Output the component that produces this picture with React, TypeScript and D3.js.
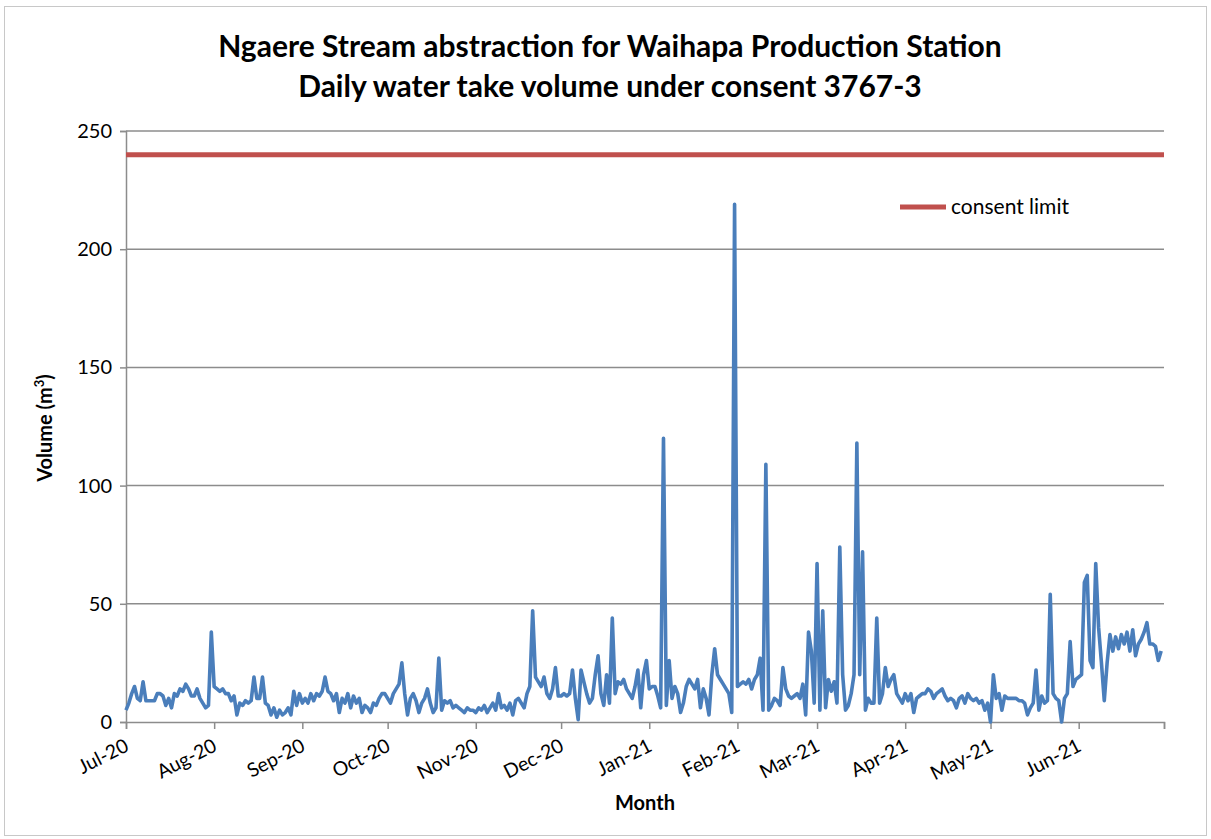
import React, { useRef, useEffect } from "react";
import * as d3 from "d3";

// daily take volume (m3), Jul 2020 - Jun 2021
const jul20 = [5, 8, 12, 15, 10, 9, 17, 9, 9, 9, 9, 12, 12, 11, 7, 10, 6, 12, 11, 14, 13, 16, 14, 11, 11, 14, 10, 8, 6, 7, 38];
const aug20 = [15, 14, 13, 14, 12, 12, 9, 11, 3, 8, 7, 9, 8, 9, 19, 10, 10, 19, 8, 7, 3, 6, 2, 5, 3, 4, 6, 3, 13, 7, 12];
const sep20 = [8, 10, 8, 12, 9, 12, 11, 13, 19, 13, 12, 9, 12, 4, 10, 8, 12, 6, 11, 8, 10, 4, 7, 6, 4, 8, 7, 10, 12, 12];
const oct20 = [10, 8, 12, 14, 16, 25, 12, 3, 10, 12, 9, 4, 8, 10, 14, 8, 4, 6, 27, 5, 9, 8, 9, 6, 7, 6, 5, 4, 6, 5, 5];
const nov20 = [4, 6, 5, 7, 4, 6, 8, 5, 12, 6, 7, 5, 8, 3, 9, 10, 8, 6, 12, 15, 47, 19, 17, 15, 19, 12, 10, 14, 23, 11];
const dec20 = [11, 12, 11, 12, 22, 10, 1, 22, 17, 12, 8, 10, 20, 28, 12, 7, 20, 8, 44, 12, 17, 16, 18, 14, 12, 10, 15, 22, 6, 20, 26];
const jan21 = [14, 15, 15, 11, 6, 120, 7, 26, 10, 15, 12, 4, 8, 15, 18, 16, 14, 18, 6, 14, 10, 3, 20, 31, 20, 18, 16, 14, 12, 4, 219];
const feb21 = [15, 16, 17, 16, 18, 14, 18, 20, 27, 5, 109, 5, 7, 10, 9, 7, 23, 14, 11, 10, 11, 12, 10, 16, 3, 38, 30, 8];
const mar21 = [67, 5, 47, 6, 18, 13, 17, 8, 74, 20, 5, 7, 12, 20, 118, 20, 72, 5, 10, 8, 8, 44, 8, 12, 23, 15, 18, 20, 12, 10, 8];
const apr21 = [12, 9, 12, 4, 10, 11, 12, 12, 14, 13, 10, 12, 13, 14, 11, 9, 10, 9, 6, 10, 11, 8, 12, 10, 9, 10, 8, 9, 5, 8];
const may21 = [0, 20, 10, 12, 5, 11, 10, 10, 10, 10, 9, 9, 8, 3, 6, 8, 22, 5, 11, 8, 9, 54, 12, 10, 9, 0, 10, 12, 34, 15, 18];
const jun21 = [19, 20, 59, 62, 26, 23, 67, 40, 25, 9, 25, 37, 30, 36, 31, 37, 33, 38, 30, 39, 28, 33, 35, 38, 42, 33, 33, 32, 26, 30];

const monthLabels = ["Jul-20", "Aug-20", "Sep-20", "Oct-20", "Nov-20", "Dec-20", "Jan-21", "Feb-21", "Mar-21", "Apr-21", "May-21", "Jun-21"];
const yTicks = [0, 50, 100, 150, 200, 250];
const consentLimit = 240;

const App = () => {
  const canvas = useRef<SVGSVGElement>(null);

  const drawChart = () => {
    const width = 1211;
    const height = 839;
    const margin = { top: 131, left: 126, bottom: 117, right: 47 };
    const iwidth = width - margin.left - margin.right;
    const iheight = height - margin.top - margin.bottom;
    const font = "Lato, 'Open Sans', sans-serif";
    const grey = "#8c8c8c";

    const svg = d3.select(canvas.current);
    svg.selectAll("*").remove();

    // frame
    svg.append("rect")
      .attr("x", 4.5).attr("y", 6.5)
      .attr("width", width - 9).attr("height", height - 10)
      .attr("fill", "#fff").attr("stroke", "#c8c8c8");

    const start = new Date(2020, 6, 1);
    const end = new Date(2021, 6, 1);
    const volume = [...jul20, ...aug20, ...sep20, ...oct20, ...nov20, ...dec20, ...jan21, ...feb21, ...mar21, ...apr21, ...may21, ...jun21];
    const data = volume.map((v, i) => ({ date: d3.timeDay.offset(start, i), v }));

    const x = d3.scaleTime().domain([start, end]).range([0, iwidth]);
    const y = d3.scaleLinear().domain([0, 250]).range([iheight, 0]);

    const g = svg.append("g").attr("transform", `translate(${margin.left},${margin.top})`);

    // gridlines
    g.append("g")
      .selectAll("line")
      .data(yTicks.filter((t) => t > 0))
      .join("line")
      .attr("x1", 0).attr("x2", iwidth)
      .attr("y1", (d) => y(d)).attr("y2", (d) => y(d))
      .attr("stroke", grey).attr("stroke-width", 1.5);

    // y axis
    const yAxis = g.append("g").call(d3.axisLeft(y).tickValues(yTicks).tickSize(6).tickPadding(8));
    yAxis.select(".domain").attr("stroke", grey).attr("stroke-width", 1.5);
    yAxis.selectAll(".tick line").attr("stroke", grey).attr("stroke-width", 1.5);
    yAxis.selectAll(".tick text")
      .attr("font-family", font).attr("font-size", 20).attr("fill", "#000");

    // x axis
    const months = d3.timeMonth.range(start, d3.timeDay.offset(end, 1));
    const xAxis = g.append("g")
      .attr("transform", `translate(0,${iheight})`)
      .call(d3.axisBottom(x).tickValues(months).tickSize(7).tickFormat(() => ""));
    xAxis.select(".domain").attr("stroke", grey).attr("stroke-width", 1.5);
    xAxis.selectAll(".tick line").attr("stroke", grey).attr("stroke-width", 1.5);

    g.append("g")
      .selectAll("text")
      .data(months.slice(0, 12))
      .join("text")
      .attr("transform", (d) => `translate(${x(d) + 4},${iheight + 28}) rotate(-27)`)
      .attr("text-anchor", "end")
      .attr("font-family", font).attr("font-size", 19.5).attr("fill", "#000")
      .text((d, i) => monthLabels[i]);

    // consent limit
    g.append("line")
      .attr("x1", 0).attr("x2", iwidth)
      .attr("y1", y(consentLimit)).attr("y2", y(consentLimit))
      .attr("stroke", "#c0504d").attr("stroke-width", 5);

    // volume line
    const line = d3.line<{ date: Date; v: number }>()
      .x((d) => x(d.date))
      .y((d) => y(d.v));
    g.append("path")
      .datum(data)
      .attr("d", line)
      .attr("fill", "none")
      .attr("stroke", "#4a7ebb")
      .attr("stroke-width", 3.6)
      .attr("stroke-linejoin", "round");

    // legend
    svg.append("line")
      .attr("x1", 900).attr("x2", 946).attr("y1", 207).attr("y2", 207)
      .attr("stroke", "#c0504d").attr("stroke-width", 5);
    svg.append("text")
      .attr("x", 951).attr("y", 214)
      .attr("font-family", font).attr("font-size", 21)
      .text("consent limit");

    // titles
    const title = svg.append("text")
      .attr("text-anchor", "middle")
      .attr("font-family", font).attr("font-weight", "bold").attr("font-size", 30);
    title.append("tspan").attr("x", 610).attr("y", 57).text("Ngaere Stream abstraction for Waihapa Production Station");
    title.append("tspan").attr("x", 610).attr("y", 97).text("Daily water take volume under consent 3767-3");

    svg.append("text")
      .attr("x", 645).attr("y", 810)
      .attr("text-anchor", "middle")
      .attr("font-family", font).attr("font-weight", "bold").attr("font-size", 20)
      .text("Month");

    const ylab = svg.append("text")
      .attr("transform", "translate(52,428) rotate(-90)")
      .attr("text-anchor", "middle")
      .attr("font-family", font).attr("font-weight", "bold").attr("font-size", 20);
    ylab.append("tspan").text("Volume (m");
    ylab.append("tspan").attr("font-size", 13).attr("dy", -8).text("3");
    ylab.append("tspan").attr("dy", 8).text(")");
  };

  useEffect(() => {
    drawChart();
  });

  return (
    <>
      <style>{"body{margin:0}"}</style>
      <svg ref={canvas} width={1211} height={839} style={{ display: "block" }} />
    </>
  );
};

export default App;
